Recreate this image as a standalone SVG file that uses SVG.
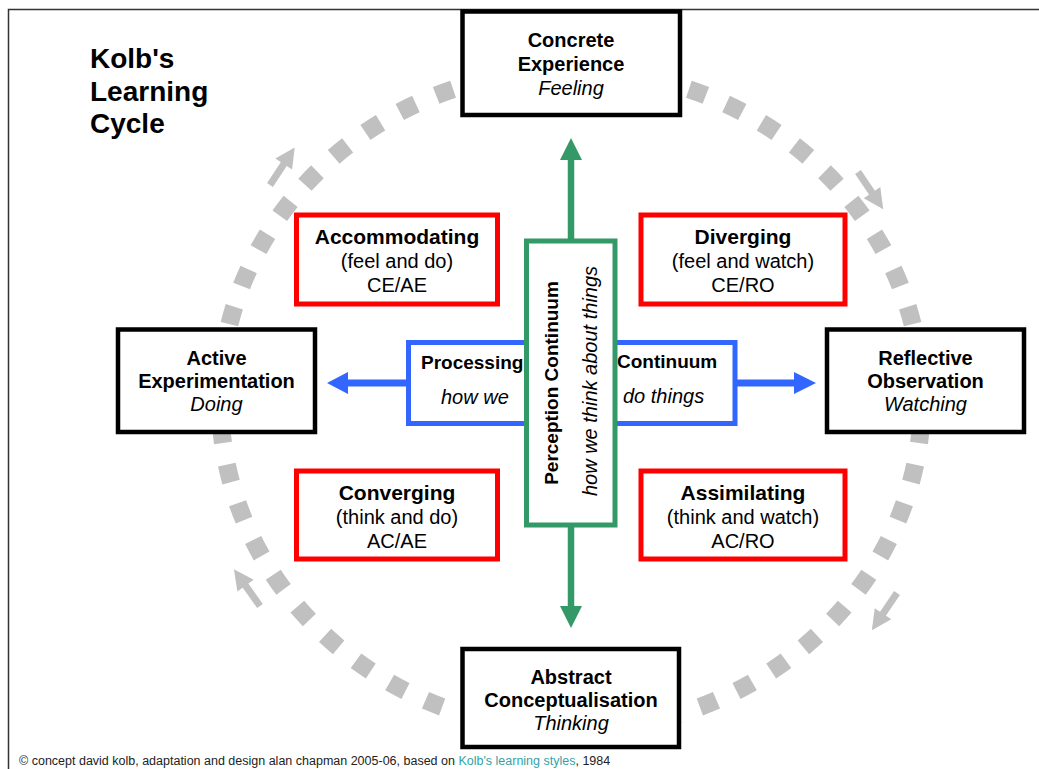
<svg xmlns="http://www.w3.org/2000/svg" width="1039" height="769" viewBox="0 0 1039 769">
<defs>
<style>
.frame{fill:none;stroke:#333;stroke-width:1.5}
.main{fill:#fff;stroke:#000;stroke-width:4.5}
.quad{fill:#fff;stroke:#f00;stroke-width:5}
.perc{fill:#fff;stroke:#339966;stroke-width:5}
.proc{fill:#fff;stroke:#3366ff;stroke-width:5}
text{font-family:"Liberation Sans",Arial,sans-serif;fill:#000}
.t28{font-size:28px;font-weight:bold}
.b20{font-size:20px;font-weight:bold}
.b19{font-size:19px;font-weight:bold}
.i20{font-size:20px;font-style:italic}
.b21{font-size:21px;font-weight:bold}
.r20{font-size:20px}
.mid{text-anchor:middle}
.ring{fill:none;stroke:#c0c0c0;stroke-width:18;stroke-dasharray:18 22}
.garrow{fill:#c0c0c0}
.gline{stroke:#339966;stroke-width:6.5}
.ghead{fill:#339966}
.bline{stroke:#3366ff;stroke-width:7}
.bhead{fill:#3366ff}
</style>
<g id="cycleArrow"><rect x="0" y="-3.5" width="26" height="7"/><polygon points="25,-10 45,0 25,10"/></g>
</defs>
<rect class="frame" x="8.5" y="9.5" width="1040" height="770"/>
<g id="title"><text class="t28" x="90" y="68">Kolb's</text><text class="t28" x="90" y="101">Learning</text><text class="t28" x="90" y="133">Cycle</text></g>
<g id="connectors">
<path class="ring" d="M571,70 A351,330 0 0 1 571,730"/>
<path class="ring" d="M571,70 A351,330 0 0 0 571,730"/>
<g class="garrow">
<use href="#cycleArrow" transform="translate(270,185) rotate(-56.7)"/>
<use href="#cycleArrow" transform="translate(858,172) rotate(55.9)"/>
<use href="#cycleArrow" transform="translate(897,593) rotate(124)"/>
<use href="#cycleArrow" transform="translate(260,606) rotate(-125.4)"/>
</g>
<line class="bline" x1="408" y1="383" x2="346" y2="383"/>
<polygon class="bhead" points="348,372 348,394 327,383"/>
<line class="bline" x1="735" y1="383" x2="796" y2="383"/>
<polygon class="bhead" points="794,372 794,394 816,383"/>
<line class="gline" x1="571" y1="241" x2="571" y2="158"/>
<polygon class="ghead" points="560,160 582,160 571,138"/>
<line class="gline" x1="571" y1="525" x2="571" y2="608"/>
<polygon class="ghead" points="560,606 582,606 571,628"/>
</g>
<g id="processing">
<rect class="proc" x="408.5" y="342.5" width="326.5" height="81"/>
<text class="b19" x="421" y="369">Processing</text>
<text class="i20" x="441" y="404">how we</text>
<text class="b19" x="617" y="368">Continuum</text>
<text class="i20" x="623" y="403">do things</text>
</g>
<g id="perception">
<rect class="perc" x="526.5" y="241" width="88.5" height="284"/>
<text class="b19 mid" transform="translate(558,383) rotate(-90)">Perception Continuum</text>
<text class="i20 mid" transform="translate(597,381) rotate(-90)">how we think about things</text>
</g>
<g id="concrete">
<rect class="main" x="462.5" y="11.5" width="217.5" height="103.5"/>
<text class="b20 mid" x="571" y="47">Concrete</text>
<text class="b20 mid" x="571" y="71">Experience</text>
<text class="i20 mid" x="571" y="95">Feeling</text>
</g>
<g id="active">
<rect class="main" x="118" y="329.5" width="197" height="102.5"/>
<text class="b20 mid" x="216.5" y="365">Active</text>
<text class="b20 mid" x="216.5" y="388">Experimentation</text>
<text class="i20 mid" x="216.5" y="411">Doing</text>
</g>
<g id="reflective">
<rect class="main" x="827" y="329.5" width="197" height="102.5"/>
<text class="b20 mid" x="925.5" y="365">Reflective</text>
<text class="b20 mid" x="925.5" y="388">Observation</text>
<text class="i20 mid" x="925.5" y="411">Watching</text>
</g>
<g id="abstract">
<rect class="main" x="462.5" y="649" width="216.5" height="98"/>
<text class="b20 mid" x="571" y="684">Abstract</text>
<text class="b20 mid" x="571" y="707">Conceptualisation</text>
<text class="i20 mid" x="571" y="730">Thinking</text>
</g>
<g id="accommodating">
<rect class="quad" x="296.5" y="215" width="201" height="89"/>
<text class="b21 mid" x="397" y="244">Accommodating</text>
<text class="r20 mid" x="397" y="268">(feel and do)</text>
<text class="r20 mid" x="397" y="292">CE/AE</text>
</g>
<g id="diverging">
<rect class="quad" x="641" y="215" width="204" height="89"/>
<text class="b21 mid" x="743" y="244">Diverging</text>
<text class="r20 mid" x="743" y="268">(feel and watch)</text>
<text class="r20 mid" x="743" y="292">CE/RO</text>
</g>
<g id="converging">
<rect class="quad" x="296.5" y="471" width="201" height="88"/>
<text class="b21 mid" x="397" y="500">Converging</text>
<text class="r20 mid" x="397" y="524">(think and do)</text>
<text class="r20 mid" x="397" y="548">AC/AE</text>
</g>
<g id="assimilating">
<rect class="quad" x="641" y="471" width="204" height="88"/>
<text class="b21 mid" x="743" y="500">Assimilating</text>
<text class="r20 mid" x="743" y="524">(think and watch)</text>
<text class="r20 mid" x="743" y="548">AC/RO</text>
</g>
<g id="footer">
<text x="19" y="765" style="font-size:12.5px;fill:#222">© concept david kolb, adaptation and design alan chapman 2005-06, based on <tspan style="fill:#33a3a8">Kolb's learning styles</tspan>, 1984</text>
</g>
</svg>
